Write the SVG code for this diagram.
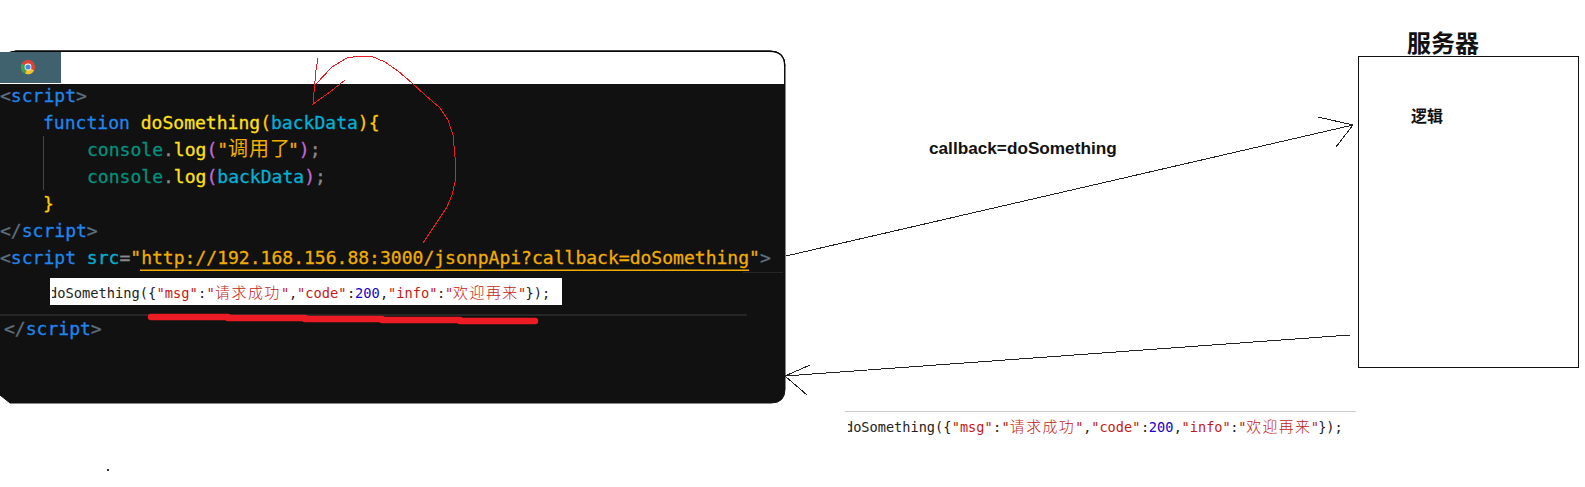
<svg xmlns="http://www.w3.org/2000/svg" width="1585" height="487" viewBox="0 0 1585 487">
<style>
.code{font-family:"DejaVu Sans Mono","Noto Sans CJK SC",monospace;font-size:18.05px;white-space:pre;stroke-width:.3px}
.tag{fill:#5d6f7d;stroke:#5d6f7d}.kw{fill:#1f86ee;stroke:#1f86ee}.fn{fill:#ffe01a;stroke:#ffe01a}.var{fill:#00b2d6;stroke:#00b2d6}.obj{fill:#00917f;stroke:#00917f}.pur{fill:#c36ad8;stroke:#c36ad8}.br{fill:#ffc800;stroke:#ffc800}.str{fill:#f0ad00;stroke:#f0ad00}.pun{fill:#8a8a8a;stroke:#8a8a8a}
.cjk{font-family:"Noto Sans CJK SC",sans-serif;font-weight:400;stroke:none}
.mini{font-family:"DejaVu Sans Mono","Noto Sans CJK SC",monospace;font-size:13.7px;white-space:pre;fill:#222}
.mini .r{fill:#c41a16}.mini .b{fill:#1c00cf}
.mini .c{font-family:"Noto Sans CJK SC",sans-serif;font-size:15px;font-weight:300;letter-spacing:1.45px}
.line{fill:none;stroke:#222;stroke-width:1;shape-rendering:crispEdges}
.pen{fill:none;stroke:#ed1c24;stroke-width:1;shape-rendering:crispEdges}
.label{font-family:"Noto Sans CJK SC","Liberation Sans",sans-serif;font-weight:700;fill:#111}
</style>
<defs>
<clipPath id="miniclip"><rect x="52" y="278" width="510" height="27"/></clipPath>
<g id="mini">
<text class="mini" y="298"><tspan x="49">doSomething({</tspan><tspan x="156.5" class="r">"msg"</tspan><tspan x="198">:</tspan><tspan x="206.5" class="r">"</tspan><tspan x="215" class="r c">请求成功</tspan><tspan x="281" class="r">"</tspan><tspan x="289">,</tspan><tspan x="297" class="r">"code"</tspan><tspan x="347">:</tspan><tspan x="355" class="b">200</tspan><tspan x="380">,</tspan><tspan x="388" class="r">"info"</tspan><tspan x="437">:</tspan><tspan x="445" class="r">"</tspan><tspan x="453" class="r c">欢迎再来</tspan><tspan x="518" class="r">"</tspan><tspan x="525.5">});</tspan></text>
</g>
</defs>
<rect width="1585" height="487" fill="#fff"/>

<g id="browser">
<path d="M0 57Q6 52 16 51H770Q785 51 785 66V389Q785 403 771 403H10L0 395Z" fill="#111" stroke="#111"/>
<path d="M0 57Q6 52 16 52H770Q784 52 784 66V84H0Z" fill="#fff"/>
<path d="M0 57Q6 52 16 51H770Q785 51 785 66" fill="none" stroke="#000"/>
<rect x="0" y="52" width="61" height="31" fill="#3f626e"/>
<g id="chrome-icon">
<circle cx="28" cy="67" r="7.2" fill="#d8453a"/>
<path d="M28 67L34.2 70.6A7.2 7.2 0 0 1 25 73.6Z" fill="#f2c230"/>
<path d="M28 67L25 73.6A7.2 7.2 0 0 1 21.8 63.4Z" fill="#3fa34d"/>
<circle cx="28" cy="67" r="3.4" fill="#fff"/><circle cx="28" cy="67" r="2.6" fill="#4a86e0"/>
</g>
<rect x="43" y="136" width="1" height="54" fill="#444"/>
<rect x="743" y="272" width="40" height="1" fill="#262626"/>
<rect x="0" y="314" width="747" height="2" fill="#262626"/>

<text class="code" y="102"><tspan x="0" class="tag">&lt;</tspan><tspan class="kw">script</tspan><tspan class="tag">&gt;</tspan></text>
<text class="code" y="129"><tspan x="43" class="kw">function</tspan> <tspan class="fn">doSomething</tspan><tspan class="br">(</tspan><tspan class="var">backData</tspan><tspan class="br">){</tspan></text>
<text class="code" y="156"><tspan x="87" class="obj">console</tspan><tspan class="pun">.</tspan><tspan class="fn">log</tspan><tspan class="pur">(</tspan><tspan class="str">"</tspan><tspan x="228" class="str cjk" font-size="20" letter-spacing="1">调用了</tspan><tspan x="288" class="str">"</tspan><tspan class="pur">)</tspan><tspan class="pun">;</tspan></text>
<text class="code" y="183"><tspan x="87" class="obj">console</tspan><tspan class="pun">.</tspan><tspan class="fn">log</tspan><tspan class="pur">(</tspan><tspan class="var">backData</tspan><tspan class="pur">)</tspan><tspan class="pun">;</tspan></text>
<text class="code" y="210" x="43"><tspan class="br">}</tspan></text>
<text class="code" y="237"><tspan x="0" class="tag">&lt;/</tspan><tspan class="kw">script</tspan><tspan class="tag">&gt;</tspan></text>
<text class="code" y="264"><tspan x="0" class="tag">&lt;</tspan><tspan class="kw">script</tspan> <tspan class="var">src</tspan><tspan class="pun">=</tspan><tspan class="str">"http://192.168.156.88:3000/jsonpApi?callback=doSomething"</tspan><tspan class="tag">&gt;</tspan></text>
<rect x="140" y="269.5" width="609" height="1.5" fill="#f0ad00"/>

<rect x="50" y="278" width="512" height="27" fill="#fff"/>
<g clip-path="url(#miniclip)"><use href="#mini"/></g>

<text class="code" y="335"><tspan x="4" class="tag">&lt;/</tspan><tspan class="kw">script</tspan><tspan class="tag">&gt;</tspan></text>

<path d="M151 317H228V318H305V319H382V320H460V321H535" fill="none" stroke="#ed1c24" stroke-width="6.5" stroke-linecap="round" stroke-linejoin="round"/>
<path class="pen" d="M318 58L316 70L313 104L330 92L345 80"/>
<path class="pen" d="M316 84L332 67L347 58L360 56H371L385 62L398 71L412 83L425 95L440 108L448 120L453 135L455 157L456 178L452 195L447 207L435 225L423 243"/>
</g>

<g id="server">
<rect x="1358.500" y="56.500" width="220" height="311" fill="#fff" stroke="#111" stroke-width="1"/>
<text class="label" x="1443" y="52" font-size="24" text-anchor="middle">服务器</text>
<text class="label" x="1427" y="122" font-size="16" text-anchor="middle">逻辑</text>
</g>

<g id="connectors">
<path class="line" d="M786 256L1353 125M1318 117L1353 125L1336 147"/>
<path class="line" d="M1350 335L785 376M810 365L785 376L807 395"/>
</g>

<g id="labels">
<text x="929" y="154" font-family="Liberation Sans" font-weight="700" font-size="17.2" fill="#111">callback=doSomething</text>
</g>

<g id="response">
<rect x="845" y="411" width="511" height="1" fill="#ccc"/>
<g transform="translate(845 432) scale(.993) translate(-49 -298)"><g clip-path="url(#miniclip)"><use href="#mini"/></g></g>
</g>
<rect x="107" y="469" width="2" height="2" fill="#333"/>
</svg>
